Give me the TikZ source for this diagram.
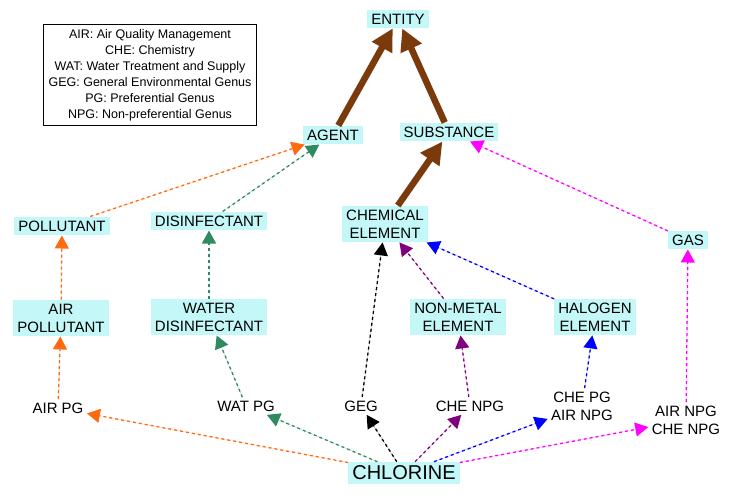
\documentclass[tikz,border=0pt]{standalone}
\usepackage{fontspec}
\setmainfont{Liberation Sans}
\usetikzlibrary{arrows.meta}
\definecolor{boxc}{HTML}{C4F7F7}
\definecolor{brn}{HTML}{7A3A0C}
\definecolor{org}{HTML}{FF6A10}
\definecolor{grn}{HTML}{2E8B60}
\definecolor{pur}{HTML}{800080}
\definecolor{blu}{HTML}{0000FF}
\definecolor{mag}{HTML}{FF00FF}
\begin{document}
\begin{tikzpicture}[x=1pt,y=-1pt,
  cls/.style={fill=boxc,inner sep=4pt,align=center,font=\fontsize{15}{18}\selectfont},
  lbl/.style={align=center,font=\fontsize{15}{18}\selectfont},
  strong/.style={draw=brn,line width=6.5pt,-{Triangle[length=22pt,width=22pt]}},
  dl/.style={draw=#1,dashed,line width=1.3pt,-{Triangle[length=13pt,width=14pt]},fill=#1}]
\useasboundingbox (0,0) rectangle (733,502);
\node[draw,line width=1.3pt,align=center,inner sep=5pt,font=\fontsize{12.5}{16}\selectfont] (leg) at (150,75)
 {AIR: Air Quality Management\\CHE: Chemistry\\WAT: Water Treatment and Supply\\GEG: General Environmental Genus\\PG: Preferential Genus\\NPG: Non-preferential Genus};
\node[cls] (ent) at (398,19) {ENTITY};
\node[cls] (agt) at (333,135) {AGENT};
\node[cls] (sub) at (449,132) {SUBSTANCE};
\node[cls] (pol) at (62,226) {POLLUTANT};
\node[cls] (dis) at (209,221) {DISINFECTANT};
\node[cls] (che) at (385,224) {CHEMICAL\\ELEMENT};
\node[cls] (gas) at (688,240) {GAS};
\node[cls] (apol) at (61,318) {AIR\\POLLUTANT};
\node[cls] (wdis) at (209,317) {WATER\\DISINFECTANT};
\node[cls] (nme) at (458,317) {NON-METAL\\ELEMENT};
\node[cls] (hal) at (595,317) {HALOGEN\\ELEMENT};
\node[lbl] (apg) at (58,408) {AIR PG};
\node[lbl] (wpg) at (246,406) {WAT PG};
\node[lbl] (geg) at (361,406) {GEG};
\node[lbl] (cnpg) at (470,406) {CHE NPG};
\node[lbl] (cpg) at (582,406) {CHE PG\\AIR NPG};
\node[lbl] (anpg) at (686,420) {AIR NPG\\CHE NPG};
\node[cls,font=\fontsize{20}{24}\selectfont] (cl) at (404,473) {CHLORINE};
\draw[strong] (agt) -- (ent);
\draw[strong] (sub) -- (ent);
\draw[strong] (che) -- (sub);
\draw[dl=org] (pol) -- (agt);
\draw[dl=org] (apol) -- (pol);
\draw[dl=org] (apg) -- (apol);
\draw[dl=org] (cl) -- (apg);
\draw[dl=grn] (dis) -- (agt);
\draw[dl=grn] (wdis) -- (dis);
\draw[dl=grn] (wpg) -- (wdis);
\draw[dl=grn] (cl) -- (wpg);
\draw[dl=black] (cl) -- (geg);
\draw[dl=black] (geg) -- (che);
\draw[dl=pur] (cl) -- (cnpg);
\draw[dl=pur] (cnpg) -- (nme);
\draw[dl=pur] (nme) -- (che);
\draw[dl=blu] (cl) -- (cpg);
\draw[dl=blu] (cpg) -- (hal);
\draw[dl=blu] (hal) -- (che);
\draw[dl=mag] (cl) -- (anpg);
\draw[dl=mag] (anpg) -- (gas);
\draw[dl=mag] (gas) -- (sub);
\end{tikzpicture}
\end{document}
